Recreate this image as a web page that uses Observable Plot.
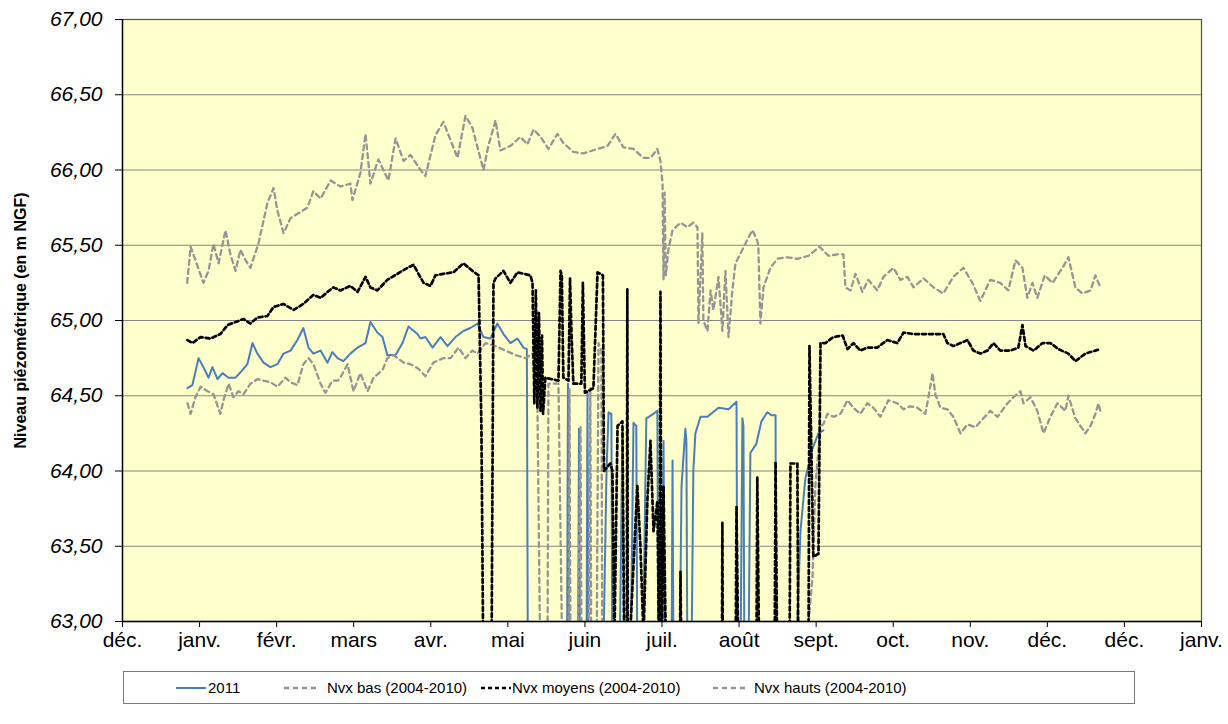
<!DOCTYPE html>
<html>
<head>
<meta charset="utf-8">
<script src="https://cdn.jsdelivr.net/npm/d3@7"></script>
<script src="https://cdn.jsdelivr.net/npm/@observablehq/plot@0.6"></script>
<style>
  html, body { margin: 0; padding: 0; background: #ffffff; }
  body { width: 1228px; height: 724px; position: relative; overflow: hidden; font-family: "Liberation Sans", Arial, sans-serif; }
  #chart { position: absolute; left: 0; top: 0; }
  #legend { position: absolute; left: 123px; top: 671px; width: 1012px; height: 33px; border: 1px solid #7a7a7a; box-sizing: border-box; background: #fff; }
  .item { position: absolute; top: 0; height: 31px; display: flex; align-items: center; font-size: 15px; color: #000; white-space: nowrap; }
  .item svg { display: block; }
</style>
</head>
<body>
<div id="chart"></div>
<div id="legend"></div>
<script>
// ---- data (x = days from the first tick, one tick every 30 days) ----
const monthLabels = ["déc.", "janv.", "févr.", "mars", "avr.", "mai", "juin", "juil.", "août", "sept.", "oct.", "nov.", "déc.", "déc.", "janv."];
const xTicks = [0, 30, 60, 90, 120, 150, 180, 210, 240, 270, 300, 330, 360, 390, 420];
const yTicks = [63, 63.5, 64, 64.5, 65, 65.5, 66, 66.5, 67];
const seriesNames = ["2011", "Nvx bas (2004-2010)", "Nvx moyens (2004-2010)", "Nvx hauts (2004-2010)"];

const serie2011 = [
[25.3,64.55],[27.2,64.57],[29.6,64.75],[31.5,64.69],[33.5,64.62],[35.0,64.69],[37.0,64.61],[38.9,64.65],[41.3,64.62],[44.0,64.62],[46.7,64.67],[48.6,64.71],[50.6,64.85],[52.5,64.78],[54.9,64.72],[57.6,64.69],[60.3,64.71],[62.7,64.78],[65.4,64.80],[68.1,64.87],[70.4,64.95],[72.4,64.82],[74.3,64.78],[77.1,64.80],[79.8,64.72],[81.7,64.79],[83.7,64.75],[86.0,64.73],[88.7,64.78],[91.5,64.82],[94.6,64.85],[96.5,64.99],[99.2,64.92],[101.2,64.89],[103.1,64.77],[106.3,64.77],[109.0,64.85],[111.3,64.96],[114.8,64.91],[116.0,64.88],[117.9,64.89],[120.7,64.82],[123.8,64.89],[126.5,64.83],[129.6,64.89],[132.7,64.93],[135.4,64.95],[138.2,64.98],[140.5,64.89],[143.2,64.88],[145.9,64.98],[148.3,64.91],[151.0,64.85],[153.7,64.88],[156.1,64.82],[157.4,64.81],[157.8,62.6],
[173.0,62.6],[173.4,64.58],[173.8,62.6],[177.3,62.6],[177.7,64.28],[178.1,62.6],[180.6,62.6],[181.0,64.53],[181.4,62.6],[187.0,62.6],[188.4,64.0],[189.2,64.39],[190.3,64.38],[190.7,62.6],[193.4,62.6],[194.6,64.27],[195.4,62.6],[197.7,62.6],[198.9,64.32],[200.0,64.30],[200.4,62.6],[202.4,62.6],[203.9,64.35],[206.7,64.38],[208.2,64.40],[208.6,62.6],[209.8,62.6],[210.6,64.20],[211.1,62.6],[213.7,62.6],[214.1,64.07],[214.5,62.6],[216.8,62.6],[217.6,63.90],[219.1,64.28],[219.5,64.20],[219.9,62.6],[221.4,62.6],[222.2,64.00],[223.0,64.25],[225.0,64.36],[227.7,64.36],[232.0,64.42],[235.9,64.41],[239.0,64.46],[239.4,62.6],[240.5,62.6],[241.3,64.35],[241.7,64.30],[242.1,62.6],[243.6,62.6],[244.4,64.12],[246.7,64.18],[248.7,64.33],[251.0,64.39],[252.6,64.37],[254.2,64.37],[254.5,62.6],[261.9,62.6],[263.9,63.60],[265.8,63.95],[268.6,64.15],[270.9,64.25],[272.8,64.27]
];

const nvxBas = [
[25.3,64.45],[26.5,64.38],[28.4,64.49],[30.4,64.56],[33.1,64.53],[35.4,64.51],[38.1,64.38],[39.3,64.47],[41.3,64.58],[43.2,64.49],[45.1,64.53],[47.1,64.51],[49.8,64.58],[52.5,64.61],[54.9,64.60],[57.6,64.59],[60.3,64.56],[63.4,64.62],[65.4,64.59],[68.1,64.57],[70.4,64.71],[72.4,64.75],[74.3,64.71],[77.1,64.58],[79.0,64.52],[81.7,64.60],[83.7,64.60],[84.8,64.62],[87.6,64.71],[89.9,64.53],[92.6,64.65],[95.4,64.53],[97.7,64.62],[101.2,64.67],[103.1,64.75],[105.5,64.77],[109.4,64.72],[112.1,64.71],[115.2,64.68],[117.9,64.63],[121.0,64.72],[124.9,64.75],[127.7,64.75],[130.8,64.82],[133.5,64.75],[136.2,64.80],[138.2,64.78],[141.3,64.85],[145.2,64.83],[149.1,64.80],[153.0,64.77],[156.9,64.75],[159.6,64.78],[161.5,64.45],[162.7,62.6],[165.4,62.6],[165.8,64.58],[169.7,64.58],[171.3,62.6],[173.6,62.6],[174.0,64.55],[174.4,62.6],[177.1,62.6],[178.3,64.30],[178.7,62.6],[181.4,62.6],[182.1,64.55],[182.5,62.6],[184.5,62.6],[185.3,64.85],[186.4,64.80],[186.8,62.6],
[265.1,62.6],[268.6,63.30],[269.7,63.90],[271.7,64.30],[272.8,64.31],[274.4,64.38],[276.7,64.36],[279.5,64.38],[282.2,64.47],[284.5,64.42],[287.2,64.38],[289.9,64.45],[292.3,64.42],[295.0,64.36],[298.1,64.47],[301.6,64.45],[304.0,64.41],[306.7,64.43],[309.4,64.42],[312.5,64.38],[313.7,64.49],[315.3,64.65],[316.4,64.51],[318.4,64.42],[321.1,64.41],[323.4,64.36],[326.2,64.25],[328.9,64.31],[332.0,64.29],[335.1,64.35],[337.8,64.40],[340.6,64.36],[344.5,64.45],[346.8,64.49],[349.5,64.53],[350.7,64.45],[353.4,64.49],[356.1,64.40],[358.5,64.25],[361.2,64.36],[363.9,64.45],[367.0,64.40],[368.2,64.50],[370.9,64.35],[374.8,64.25],[376.8,64.30],[378.7,64.38],[379.9,64.45],[380.6,64.40]
];

const nvxMoyens = [
[25.3,64.87],[27.2,64.85],[30.4,64.89],[34.2,64.88],[38.1,64.91],[40.9,64.97],[44.0,64.99],[47.1,65.01],[49.8,64.98],[52.5,65.02],[56.4,65.03],[58.8,65.09],[62.7,65.11],[66.6,65.07],[70.4,65.11],[74.3,65.17],[77.1,65.15],[79.8,65.19],[82.1,65.22],[84.8,65.20],[88.7,65.23],[91.5,65.19],[94.6,65.29],[96.5,65.22],[99.2,65.20],[103.1,65.27],[107.0,65.31],[110.9,65.35],[113.3,65.37],[115.2,65.31],[117.2,65.25],[119.9,65.23],[121.8,65.30],[124.9,65.31],[128.8,65.32],[132.7,65.38],[136.2,65.33],[138.6,65.30],
[139.7,64.30],[140.5,62.6],[143.6,62.6],[144.4,65.25],[145.2,65.28],[148.3,65.33],[151.0,65.25],[153.7,65.32],[158.8,65.30],[159.6,65.25],
[160.3,64.45],[160.9,65.20],[161.5,64.42],[162.1,65.05],[162.7,64.40],[163.3,64.90],[163.7,64.38],[164.6,64.62],[169.7,64.60],[170.5,65.33],[171.0,65.30],[171.6,64.62],[173.6,64.60],[174.2,65.28],[174.8,64.90],[175.5,64.58],[178.6,64.58],[179.2,65.25],[180.0,64.52],[183.3,64.55],[184.9,65.32],[187.0,65.30],[187.4,64.00],[189.9,64.05],[190.7,64.00],[191.5,62.9],[192.7,64.30],[194.6,64.33],[195.4,62.6],[196.3,62.6],[196.5,65.21],[196.7,62.6],[200.4,63.90],[201.6,63.50],[202.8,62.9],[204.3,63.80],[205.5,64.20],[206.7,63.60],[208.2,63.80],[209.0,62.6],[209.4,65.19],[209.8,62.6],[210.6,63.90],[211.7,62.6],[216.9,62.6],[217.2,63.33],[217.6,62.6],[233.3,62.6],[233.5,63.66],[233.7,62.6],[238.6,62.6],[239.0,63.76],[239.8,62.6],[246.7,62.6],[247.1,63.96],[247.9,62.6],[253.8,62.6],[254.2,64.06],[254.9,62.6],[259.6,62.6],[260.0,64.05],[262.7,64.05],[263.1,62.6],[267.0,62.6],[267.4,64.83],[268.9,63.43],[270.9,63.45],[271.7,64.85],
[273.6,64.85],[276.7,64.89],[280.3,64.90],[282.2,64.81],[284.5,64.85],[287.2,64.80],[289.9,64.82],[293.8,64.82],[297.7,64.87],[301.6,64.85],[304.0,64.92],[307.9,64.91],[311.8,64.91],[315.7,64.91],[319.5,64.91],[321.1,64.85],[323.4,64.83],[326.2,64.85],[328.9,64.87],[331.2,64.80],[333.9,64.78],[336.7,64.80],[339.0,64.85],[341.7,64.80],[345.6,64.80],[348.7,64.82],[350.3,64.97],[351.5,64.83],[354.6,64.80],[358.1,64.85],[361.2,64.85],[364.3,64.81],[368.2,64.78],[370.9,64.73],[374.8,64.78],[378.7,64.80],[380.6,64.81]
];

const nvxHauts = [
[25.2,65.25],[26.5,65.49],[28.4,65.40],[31.5,65.25],[33.5,65.33],[35.4,65.51],[37.4,65.38],[40.1,65.60],[42.0,65.44],[44.0,65.33],[45.9,65.47],[47.9,65.40],[49.8,65.35],[52.9,65.51],[56.4,65.78],[58.8,65.88],[60.3,65.73],[62.7,65.58],[65.4,65.68],[72.0,65.75],[74.3,65.86],[77.1,65.81],[81.0,65.93],[84.8,65.89],[88.7,65.91],[89.5,65.80],[92.6,65.98],[94.6,66.24],[96.5,65.91],[99.6,66.07],[103.5,65.93],[106.3,66.21],[109.4,66.06],[112.1,66.10],[116.0,66.00],
[117.9,65.96],[121.8,66.23],[124.9,66.32],[130.4,66.08],[133.5,66.36],[136.2,66.28],[140.5,66.00],[142.4,66.16],[145.2,66.33],[147.1,66.13],[151.0,66.16],[154.9,66.22],[157.6,66.17],[160.0,66.27],[162.7,66.22],[165.8,66.14],[169.3,66.24],[171.6,66.18],[175.5,66.12],[179.4,66.11],[184.9,66.14],[188.8,66.16],[191.9,66.24],[195.0,66.15],[198.9,66.14],[202.8,66.08],[205.5,66.08],[208.2,66.14],[209.4,66.06],
[210.2,65.91],[210.6,65.27],[211.0,65.85],[211.5,65.30],[212.5,65.47],[214.1,65.60],[217.2,65.65],[219.9,65.62],[222.2,65.65],[223.8,65.62],[224.2,64.98],[225.7,65.58],[226.1,65.00],[227.7,64.93],[228.9,65.20],[230.0,65.07],[232.0,65.29],[233.5,64.93],[234.7,65.33],[235.9,64.89],[237.4,65.20],[238.6,65.38],[241.3,65.47],[243.6,65.55],[245.2,65.60],[247.1,65.53],[247.5,65.49],[248.3,64.98],[249.5,65.22],[252.2,65.35],[254.9,65.41],[258.8,65.42],[262.7,65.41],[267.0,65.43],[271.3,65.49],[274.8,65.43],[278.3,65.44],[280.6,65.44],[281.4,65.22],[283.4,65.20],[285.3,65.31],[288.0,65.19],[290.3,65.27],[293.8,65.20],[296.2,65.29],[300.1,65.35],[302.8,65.27],[305.5,65.29],[307.9,65.22],[311.8,65.28],[315.7,65.22],[319.5,65.18],[323.4,65.29],[327.3,65.35],[330.8,65.25],[333.9,65.13],[337.8,65.27],[341.7,65.25],[344.8,65.20],[347.6,65.40],[350.3,65.35],[352.2,65.15],[354.2,65.25],[356.1,65.15],[359.0,65.30],[362.0,65.25],[365.9,65.35],[368.2,65.42],[370.9,65.22],[373.6,65.18],[376.8,65.20],[378.7,65.30],[380.6,65.22]
];

// ---- styles ----
const BLUE = "#4a7ebb";
const GRAY = "#959595";
const styles = [
  {stroke: BLUE, strokeWidth: 2, dash: null},
  {stroke: GRAY, strokeWidth: 2.3, dash: "5,4"},
  {stroke: "#000000", strokeWidth: 2.7, dash: "4,3"},
  {stroke: GRAY, strokeWidth: 2.3, dash: "5,4"}
];

const toRows = (arr) => arr.map(([d, v]) => ({day: d, value: v}));
const allSeries = [serie2011, nvxBas, nvxMoyens, nvxHauts];

const lineMarks = allSeries.map((s, i) => Plot.line(toRows(s), {
  x: "day", y: "value",
  stroke: styles[i].stroke, strokeWidth: styles[i].strokeWidth,
  strokeDasharray: styles[i].dash, clip: true
}));

const fmt = d => d.toFixed(2).replace(".", ",");

const chart = Plot.plot({
  width: 1228,
  height: 660,
  marginLeft: 122,
  marginRight: 27,
  marginTop: 19,
  marginBottom: 39,
  style: {fontFamily: "'Liberation Sans', Arial, sans-serif", fontSize: "21px", background: "#ffffff", color: "#000"},
  x: {domain: [0, 420]},
  y: {domain: [63, 67]},
  marks: [
    Plot.frame({fill: "#ffffcc", stroke: null}),
    Plot.gridY(yTicks, {stroke: "#858585", strokeOpacity: 1, strokeWidth: 1.2}),
    ...lineMarks,
    Plot.frame({stroke: "#505050", strokeWidth: 1.2}),
    Plot.ruleY([63], {stroke: "#000", strokeWidth: 1.4}),
    Plot.ruleX([0], {stroke: "#000", strokeWidth: 1.4}),
    Plot.axisX({ticks: xTicks, tickFormat: (d, i) => monthLabels[i], tickSize: 6, tickPadding: 5, fontSize: 21, label: null, stroke: "#000"}),
    Plot.axisY({ticks: yTicks, tickFormat: fmt, tickSize: 7, tickPadding: 13, fontSize: 21, fontStyle: "italic", label: null, stroke: "#000"}),
    Plot.text(["Niveau piézométrique (en m NGF)"], {frameAnchor: "left", textAnchor: "middle", rotate: -90, dx: -102, fontWeight: "bold", fontSize: 16})
  ]
});
document.getElementById("chart").appendChild(chart);

// make sure tick label fonts are applied
const svgSel = d3.select(chart);
svgSel.selectAll('g[aria-label="x-axis tick label"]').attr("font-size", 21).style("font-size", "21px");
svgSel.selectAll('g[aria-label="y-axis tick label"]').attr("font-size", 21).style("font-size", "21px").attr("font-style", "italic").style("font-style", "italic");

// ---- legend ----
const legendItems = [
  {left: 52, len: 30, gap: 2},
  {left: 160, len: 33, gap: 10},
  {left: 357, len: 30, gap: 1},
  {left: 589, len: 33, gap: 8}
];
const legend = document.getElementById("legend");
seriesNames.forEach((name, i) => {
  const it = legendItems[i];
  const st = styles[i];
  const div = document.createElement("div");
  div.className = "item";
  div.style.left = it.left + "px";
  const svg = d3.create("svg").attr("width", it.len).attr("height", 10);
  svg.append("line").attr("x1", 0).attr("x2", it.len).attr("y1", 5).attr("y2", 5)
    .attr("stroke", st.stroke).attr("stroke-width", st.strokeWidth)
    .attr("stroke-dasharray", st.dash);
  div.appendChild(svg.node());
  const span = document.createElement("span");
  span.style.marginLeft = it.gap + "px";
  span.textContent = name;
  div.appendChild(span);
  legend.appendChild(div);
});
</script>
</body>
</html>
